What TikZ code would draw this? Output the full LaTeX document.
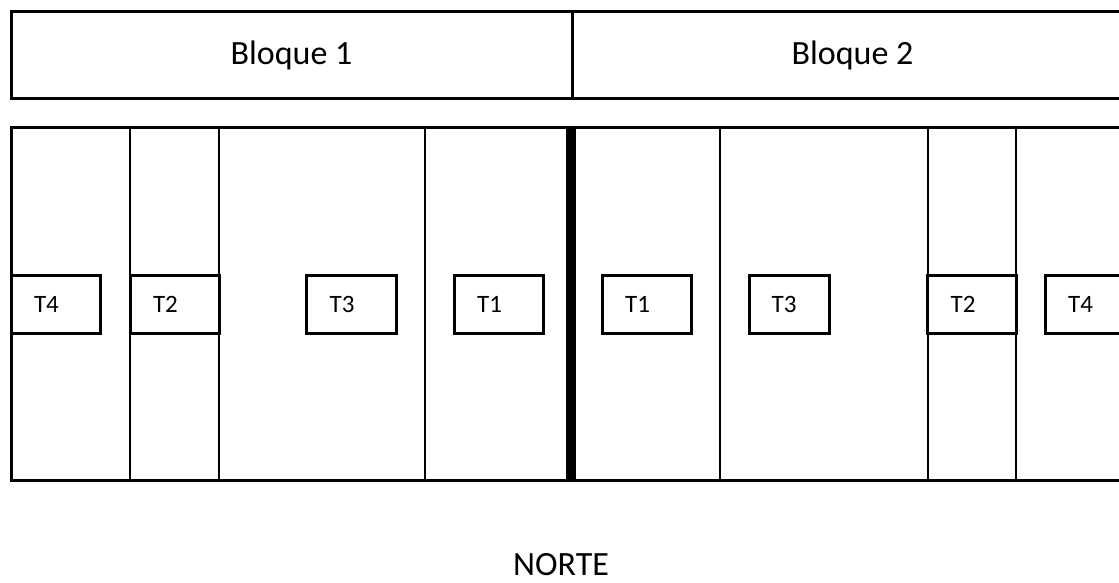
\documentclass[tikz,border=0pt]{standalone}
\usepackage{fontspec}
\setmainfont{Carlito}
\tikzset{
  block/.style={draw, line width=3, minimum width=561, minimum height=87,
    inner sep=0pt, outer sep=0pt, font=\fontsize{34}{40}\selectfont},
  wall/.style={line width=2},
  shaft/.style={draw, line width=3, minimum width=89, minimum height=58,
    inner sep=0pt, outer sep=0pt},
  tag/.style={font=\fontsize{25}{30}\selectfont, xshift=-9},
}
\begin{document}
\begin{tikzpicture}[x=1pt, y=-1pt]
  \useasboundingbox (0,0) rectangle (1119,583);
  \clip (0,0) rectangle (1119,583);

  % blocks on top
  \node [block] (bloque 1) at (291.5,55.5) {Bloque 1};
  \node [block, anchor=west] (bloque 2) at (bloque 1.east) {Bloque 2};

  % floor outline and walls
  \draw [line width=3]
    (11,128) rectangle (1135,480)
  ;
  \draw [wall] (130,128) -- (130,480);
  \draw [wall] (219,128) -- (219,480);
  \draw [wall] (425,128) -- (425,480);
  \draw [wall] (720,128) -- (720,480);
  \draw [wall] (928,128) -- (928,480);
  \draw [wall] (1016,128) -- (1016,480);
  \draw [line width=10]
    (571,128) coordinate (split top)
      -- (571,480) coordinate (split bottom)
  ;

  % block 1
  \node [shaft] (b1 t4) at (55.5,304) {};
  \node [tag] (b1 t4 text) at (b1 t4) {T4};
  \node [shaft] (b1 t2) at (174.5,304) {};
  \node [tag] (b1 t2 text) at (b1 t2) {T2};
  \node [shaft, minimum width=90] (b1 t3) at (351,304) {};
  \node [tag] (b1 t3 text) at (b1 t3) {T3};
  \node [shaft] (b1 t1) at (498.5,304) {};
  \node [tag] (b1 t1 text) at (b1 t1) {T1};

  % block 2
  \node [shaft] (b2 t1) at (646.5,304) {};
  \node [tag] (b2 t1 text) at (b2 t1) {T1};
  \node [shaft, minimum width=80] (b2 t3) at (789,304) {};
  \node [tag, xshift=4] (b2 t3 text) at (b2 t3) {T3};
  \node [shaft] (b2 t2) at (972,304) {};
  \node [tag] (b2 t2 text) at (b2 t2) {T2};
  \node [shaft] (b2 t4) at (1089.5,304) {};
  \node [tag] (b2 t4 text) at (b2 t4) {T4};

  \node [font=\fontsize{34}{40}\selectfont, anchor=base, inner sep=0pt]
    (north) at (561,575) {NORTE}
  ;
\end{tikzpicture}
\end{document}
